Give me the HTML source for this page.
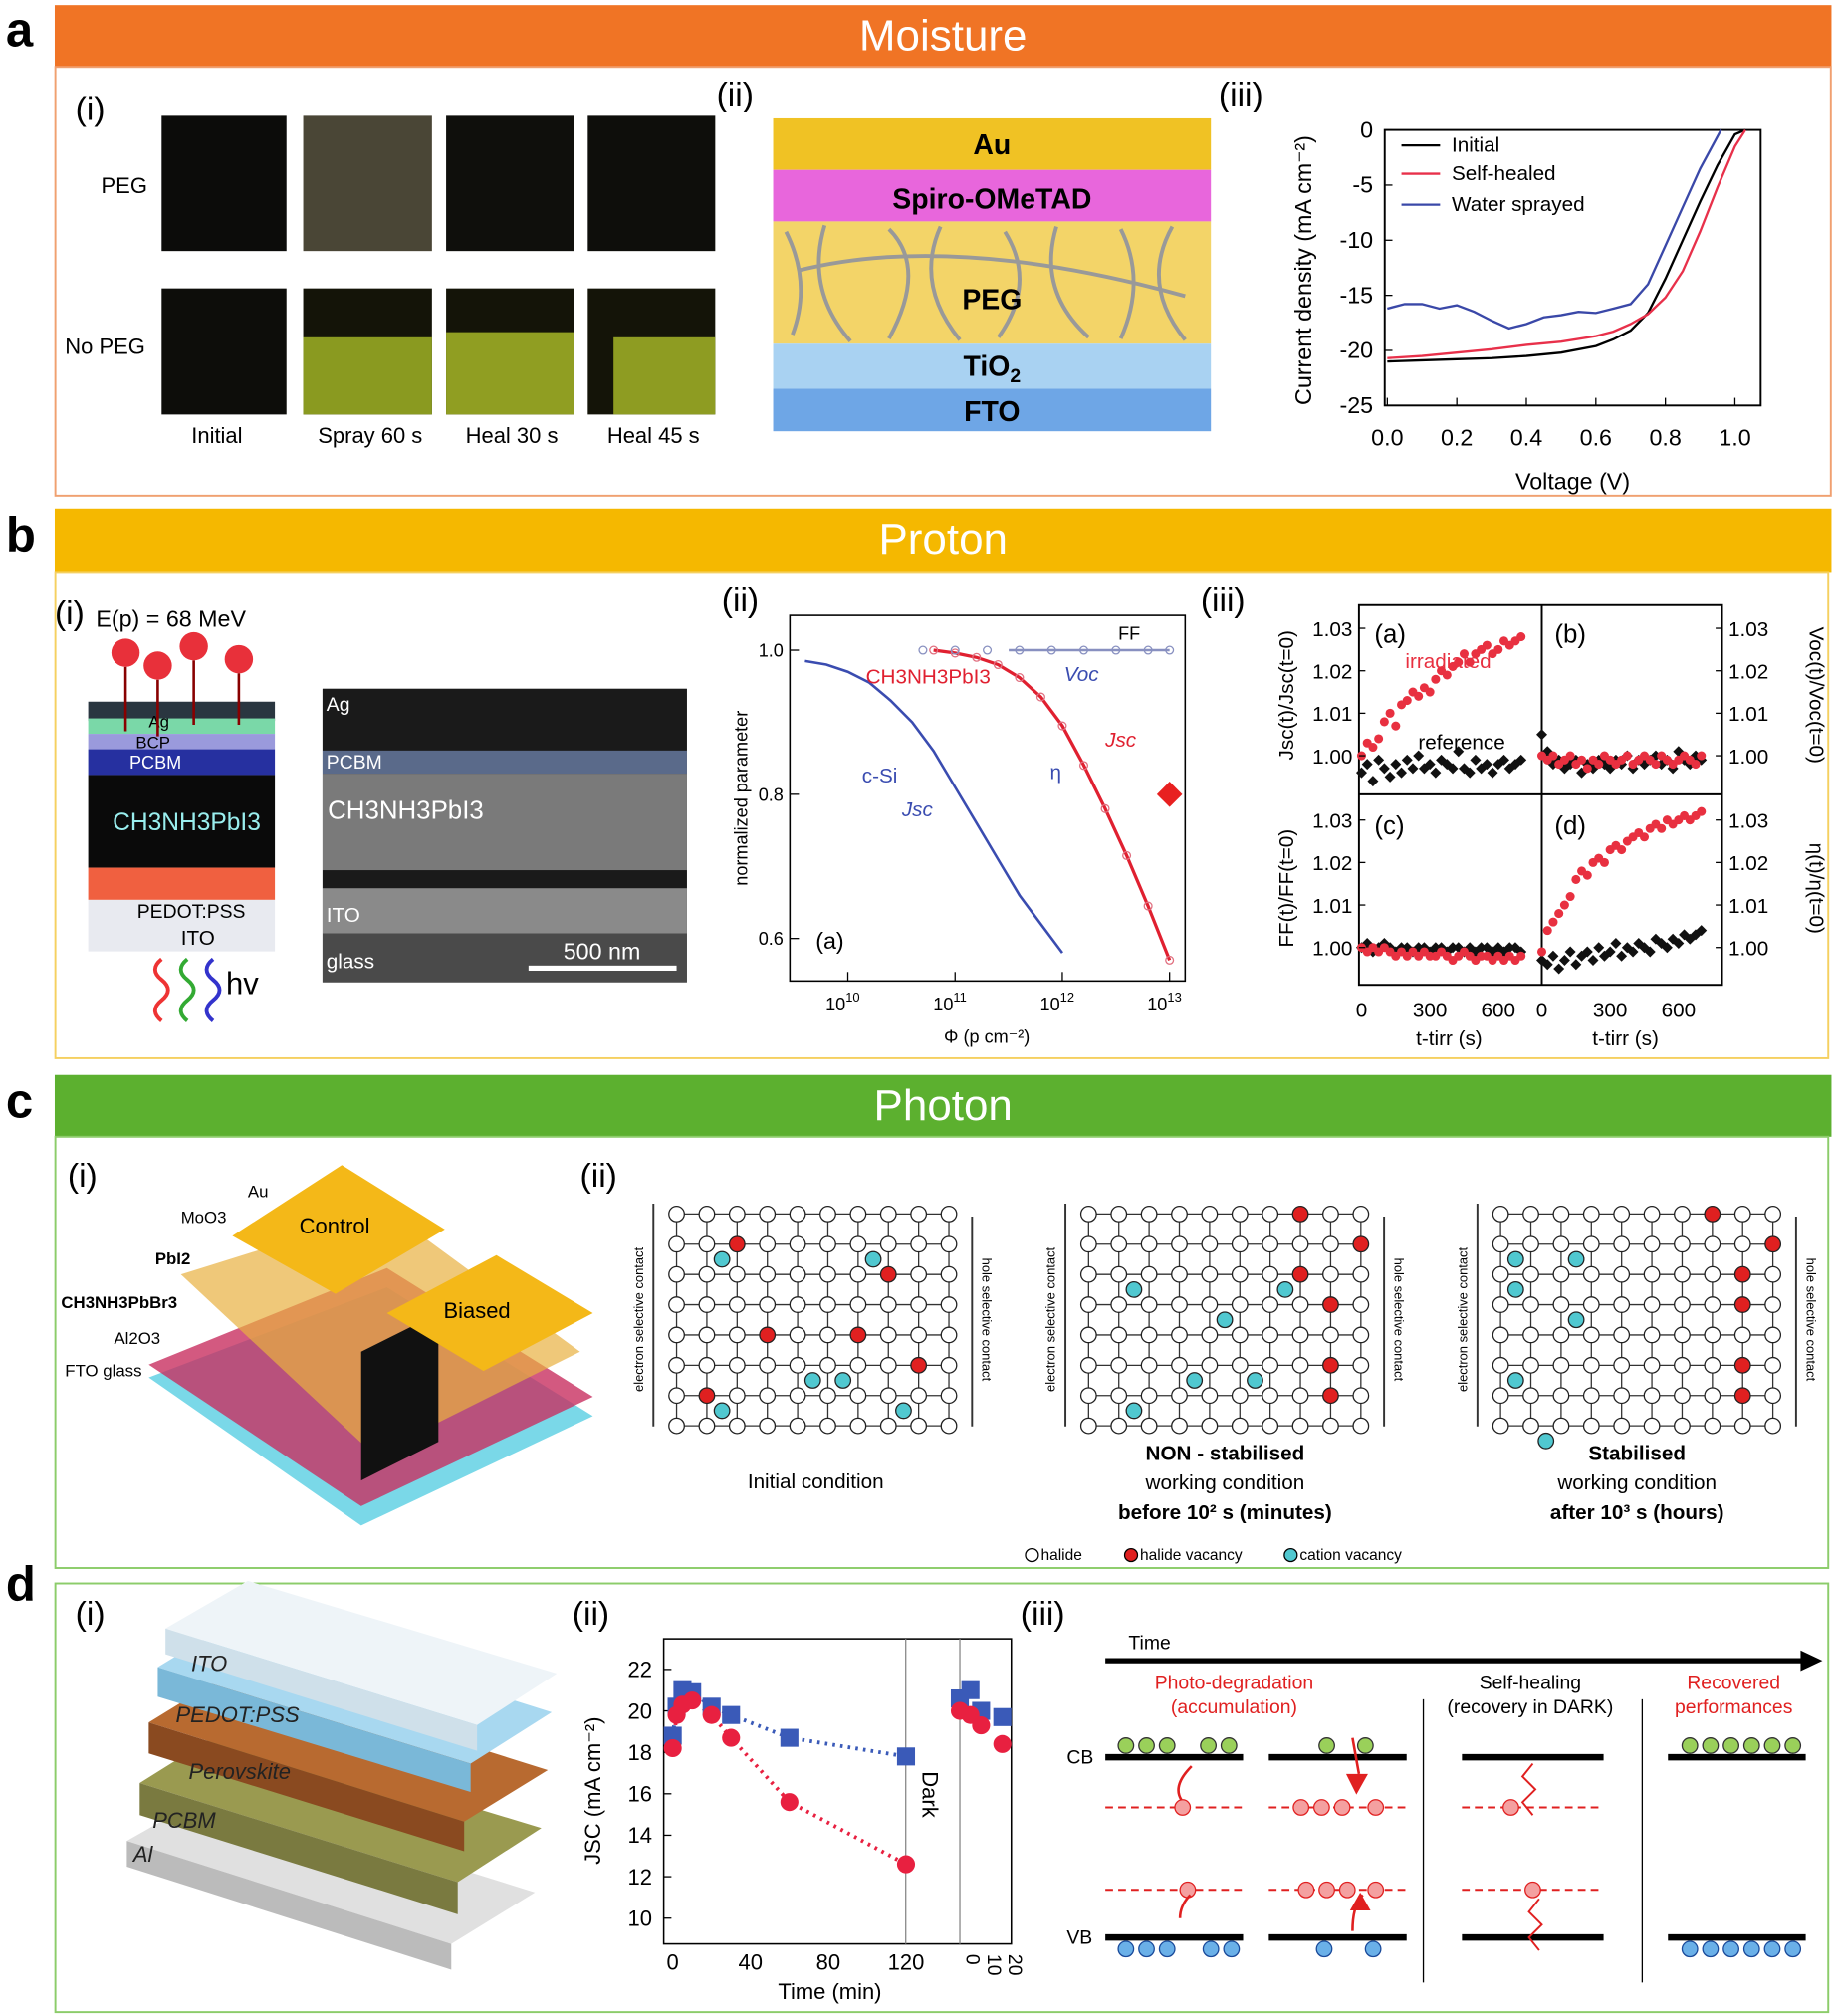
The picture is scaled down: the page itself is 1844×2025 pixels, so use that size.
<!DOCTYPE html>
<html><head><meta charset="utf-8"><style>
html,body{margin:0;padding:0;background:#fff}
svg{display:block;font-family:"Liberation Sans",sans-serif}
</style></head><body>
<svg id="root" width="1844" height="2025" viewBox="0 0 1425 1566" xmlns="http://www.w3.org/2000/svg">
<!-- headers -->
<g>
<text x="4" y="36" font-size="38" font-weight="bold">a</text>
<rect x="42" y="4" width="1380" height="48" fill="#f07425"/>
<text x="732" y="39" font-size="34" fill="#fff" text-anchor="middle">Moisture</text>
<rect x="42.5" y="52" width="1379" height="333" fill="none" stroke="#f0a070" stroke-width="1.5"/>
<text x="58" y="93" font-size="26">(i)</text>
<text x="556" y="82" font-size="26">(ii)</text>
<text x="946" y="82" font-size="26">(iii)</text>
<g>
<rect x="125" y="90" width="97" height="105" fill="#0c0c0a"/><rect x="235" y="90" width="100" height="105" fill="#4a4636"/>
<rect x="346" y="90" width="99" height="105" fill="#0f0f0c"/><rect x="456" y="90" width="99" height="105" fill="#0e0e0b"/>
<rect x="125" y="224" width="97" height="98" fill="#0d0d0a"/>
<rect x="235" y="224" width="100" height="98" fill="#141408"/><rect x="235" y="262" width="100" height="60" fill="#8a9a20"/>
<rect x="346" y="224" width="99" height="98" fill="#141408"/><rect x="346" y="258" width="99" height="64" fill="#909e22"/>
<rect x="456" y="224" width="99" height="98" fill="#141408"/><rect x="476" y="262" width="79" height="60" fill="#8e9c22"/>
<text x="78" y="150" font-size="17">PEG</text><text x="50" y="275" font-size="17">No PEG</text>
<text x="168" y="344" font-size="17" text-anchor="middle">Initial</text><text x="287" y="344" font-size="17" text-anchor="middle">Spray 60 s</text>
<text x="397" y="344" font-size="17" text-anchor="middle">Heal 30 s</text><text x="507" y="344" font-size="17" text-anchor="middle">Heal 45 s</text>
</g>
<g>
<rect x="600" y="92" width="340" height="40" fill="#f0c224"/><rect x="600" y="132" width="340" height="40" fill="#e866dc"/>
<rect x="600" y="172" width="340" height="95" fill="#f3d468"/><rect x="600" y="267" width="340" height="35" fill="#a9d2f2"/>
<rect x="600" y="302" width="340" height="33" fill="#6ea6e6"/>
<path d="M610 180 q20 40 5 80 M640 175 q-15 50 20 90 M690 178 q30 30 0 85 M730 176 q-20 45 15 88 M780 180 q25 40 -5 82 M820 176 q-15 50 25 86 M870 178 q20 40 0 85 M910 176 q-25 45 10 88 M620 210 q120 -30 300 20" stroke="#999" stroke-width="3" fill="none"/>
<text x="770" y="120" font-size="22" font-weight="bold" text-anchor="middle">Au</text>
<text x="770" y="162" font-size="22" font-weight="bold" text-anchor="middle">Spiro-OMeTAD</text>
<text x="770" y="240" font-size="22" font-weight="bold" text-anchor="middle">PEG</text>
<text x="770" y="292" font-size="22" font-weight="bold" text-anchor="middle">TiO<tspan font-size="15" dy="5">2</tspan></text>
<text x="770" y="327" font-size="22" font-weight="bold" text-anchor="middle">FTO</text>
</g>
<g id="chartA"></g>
</g>

<g>
<text x="4" y="428" font-size="38" font-weight="bold">b</text>
<rect x="42" y="395" width="1380" height="50" fill="#f5b800"/>
<text x="732" y="430" font-size="34" fill="#fff" text-anchor="middle">Proton</text>
<rect x="42.5" y="445" width="1377" height="377" fill="none" stroke="#f5d060" stroke-width="1.5"/>
<text x="42" y="485" font-size="26">(i)</text>
<text x="560" y="475" font-size="26">(ii)</text>
<text x="932" y="475" font-size="26">(iii)</text>
<g>
<text x="74" y="487" font-size="18">E(p) = 68 MeV</text>
<polygon points="68,545 213,545 213,560 68,560" fill="#2a3640"/>
<rect x="68" y="558" width="145" height="12" fill="#7ad8a8"/><rect x="68" y="570" width="145" height="12" fill="#9a9adc"/>
<rect x="68" y="582" width="145" height="20" fill="#2630a0"/><rect x="68" y="602" width="145" height="72" fill="#0a0a0a"/>
<rect x="68" y="674" width="145" height="25" fill="#f06040"/><rect x="68" y="699" width="145" height="40" fill="#e8eaf0"/>
<text x="115" y="565" font-size="13">Ag</text><text x="105" y="581" font-size="13">BCP</text><text x="100" y="597" font-size="14" fill="#fff">PCBM</text>
<text x="87" y="645" font-size="19" fill="#9ee">CH3NH3PbI3</text><text x="106" y="713" font-size="15">PEDOT:PSS</text><text x="140" y="734" font-size="16">ITO</text>
<text x="175" y="772" font-size="24">hv</text>
<path d="M125 745 q-10 8 0 16 q10 8 0 16 q-10 8 0 16" stroke="#e33" stroke-width="3" fill="none"/>
<path d="M145 745 q-10 8 0 16 q10 8 0 16 q-10 8 0 16" stroke="#3a3" stroke-width="3" fill="none"/>
<path d="M165 745 q-10 8 0 16 q10 8 0 16 q-10 8 0 16" stroke="#33c" stroke-width="3" fill="none"/>
<g fill="#e8303a"><circle cx="97" cy="507" r="11"/><circle cx="122" cy="517" r="11"/><circle cx="150" cy="502" r="11"/><circle cx="185" cy="512" r="11"/></g>
<path d="M97 518 v50 M122 528 v44 M150 513 v50 M185 523 v40" stroke="#800" stroke-width="2"/>
</g>
<g>
<rect x="250" y="535" width="283" height="228" fill="#3c3c3c"/>
<rect x="250" y="535" width="283" height="48" fill="#1a1a1a"/><rect x="250" y="583" width="283" height="18" fill="#5a6a8a"/>
<rect x="250" y="601" width="283" height="75" fill="#7a7a7a"/><rect x="250" y="676" width="283" height="14" fill="#1a1a1a"/>
<rect x="250" y="690" width="283" height="35" fill="#8a8a8a"/><rect x="250" y="725" width="283" height="38" fill="#4a4a4a"/>
<text x="253" y="552" font-size="15" fill="#fff">Ag</text><text x="253" y="597" font-size="15" fill="#fff">PCBM</text>
<text x="254" y="636" font-size="20" fill="#fff">CH3NH3PbI3</text><text x="253" y="716" font-size="16" fill="#fff">ITO</text>
<text x="253" y="752" font-size="16" fill="#fff">glass</text>
<rect x="410" y="750" width="115" height="4" fill="#fff"/><text x="467" y="745" font-size="18" fill="#fff" text-anchor="middle">500 nm</text>
</g>
<g id="chartB"></g>
<g id="chartB3"></g>
</g>

<g>
<text x="4" y="868" font-size="38" font-weight="bold">c</text>
<rect x="42" y="835" width="1380" height="48" fill="#5cb02f"/>
<text x="732" y="870" font-size="34" fill="#fff" text-anchor="middle">Photon</text>
<rect x="42.5" y="883" width="1377" height="335" fill="none" stroke="#8ccc6a" stroke-width="1.5"/>
<text x="52" y="922" font-size="26">(i)</text>
<text x="450" y="922" font-size="26">(ii)</text>
<g>
<polygon points="115,1070 280,1185 460,1100 300,1000" fill="#7ad8e8"/>
<polygon points="115,1060 280,1170 460,1085 300,985" fill="#c83060" opacity="0.8"/>
<polygon points="140,990 290,1130 450,1050 300,940" fill="#e8b040" opacity="0.7"/>
<polygon points="280,1050 340,1020 340,1120 280,1150" fill="#111"/>
<polygon points="180,960 265,905 345,955 260,1005" fill="#f4b818"/>
<polygon points="300,1020 385,975 460,1020 375,1065" fill="#f4b818"/>
<text x="232" y="958" font-size="17">Control</text><text x="344" y="1024" font-size="17">Biased</text>
<g font-size="13"><text x="192" y="930">Au</text><text x="140" y="950">MoO3</text><text x="120" y="982" font-weight="bold">PbI2</text>
<text x="47" y="1016" font-weight="bold">CH3NH3PbBr3</text><text x="88" y="1044">Al2O3</text><text x="50" y="1069">FTO glass</text></g>
</g>
<g id="lattices"></g>
<g font-size="16" text-anchor="middle">
<text x="633" y="1156">Initial condition</text>
<text x="951" y="1134" font-weight="bold">NON - stabilised</text><text x="951" y="1157">working condition</text>
<text x="951" y="1180" font-weight="bold">before 10² s (minutes)</text>
<text x="1271" y="1134" font-weight="bold">Stabilised</text><text x="1271" y="1157">working condition</text>
<text x="1271" y="1180" font-weight="bold">after 10³ s (hours)</text>
</g>
<g font-size="12">
<circle cx="801" cy="1208" r="5" fill="#fff" stroke="#000"/><text x="808" y="1212">halide</text>
<circle cx="878" cy="1208" r="5" fill="#e02020" stroke="#000"/><text x="885" y="1212">halide vacancy</text>
<circle cx="1002" cy="1208" r="5" fill="#50c8d0" stroke="#000"/><text x="1009" y="1212">cation vacancy</text>
</g>
</g>

<g>
<text x="4" y="1243" font-size="38" font-weight="bold">d</text>
<rect x="42.5" y="1230" width="1377" height="333" fill="none" stroke="#8ccc6a" stroke-width="1.5"/>
<text x="58" y="1262" font-size="26">(i)</text>
<text x="444" y="1262" font-size="26">(ii)</text>
<text x="792" y="1262" font-size="26">(iii)</text>
<g>
<polygon points="98,1430 350,1510 415,1470 165,1392" fill="#e0e0e0"/><polygon points="98,1430 98,1450 350,1530 350,1510" fill="#bbb"/>
<polygon points="108,1385 355,1462 420,1420 172,1345" fill="#9a9a50"/><polygon points="108,1385 108,1410 355,1487 355,1462" fill="#7a7a40"/>
<polygon points="115,1338 360,1415 425,1375 180,1298" fill="#b86a30"/><polygon points="115,1338 115,1362 360,1438 360,1415" fill="#8a4a20"/>
<polygon points="122,1295 365,1370 428,1330 188,1255" fill="#a8d8f0"/><polygon points="122,1295 122,1318 365,1392 365,1370" fill="#7ab8d8"/>
<polygon points="128,1265 370,1340 432,1300 192,1228" fill="#eef4f8"/><polygon points="128,1265 128,1285 370,1360 370,1340" fill="#cfe0ea"/>
<g font-size="17" font-style="italic" fill="#222"><text x="148" y="1298">ITO</text><text x="136" y="1338">PEDOT:PSS</text>
<text x="146" y="1382">Perovskite</text><text x="118" y="1420">PCBM</text><text x="103" y="1446">Al</text></g>
</g>
<g id="chartD"></g>
<g>
<text x="876" y="1281" font-size="15">Time</text>
<line x1="858" y1="1290" x2="1400" y2="1290" stroke="#000" stroke-width="4"/><polygon points="1415,1290 1398,1282 1398,1298" fill="#000"/>
<g font-size="15" text-anchor="middle"><text x="958" y="1312" fill="#e02020">Photo-degradation</text><text x="958" y="1331" fill="#e02020">(accumulation)</text>
<text x="1188" y="1312">Self-healing</text><text x="1188" y="1331">(recovery in DARK)</text>
<text x="1346" y="1312" fill="#e02020">Recovered</text><text x="1346" y="1331" fill="#e02020">performances</text></g>
<line x1="1105" y1="1320" x2="1105" y2="1540" stroke="#000"/><line x1="1275" y1="1320" x2="1275" y2="1540" stroke="#000"/>
<text x="828" y="1370" font-size="15">CB</text><text x="828" y="1510" font-size="15">VB</text>
<g stroke="#000" stroke-width="5"><line x1="858" y1="1365" x2="965" y2="1365"/><line x1="985" y1="1365" x2="1092" y2="1365"/><line x1="1135" y1="1365" x2="1245" y2="1365"/><line x1="1295" y1="1365" x2="1402" y2="1365"/>
<line x1="858" y1="1505" x2="965" y2="1505"/><line x1="985" y1="1505" x2="1092" y2="1505"/><line x1="1135" y1="1505" x2="1245" y2="1505"/><line x1="1295" y1="1505" x2="1402" y2="1505"/></g>
<g stroke="#e02020" stroke-dasharray="6,4" stroke-width="1.5"><line x1="858" y1="1404" x2="965" y2="1404"/><line x1="985" y1="1404" x2="1092" y2="1404"/><line x1="1135" y1="1404" x2="1245" y2="1404"/>
<line x1="858" y1="1468" x2="965" y2="1468"/><line x1="985" y1="1468" x2="1092" y2="1468"/><line x1="1135" y1="1468" x2="1245" y2="1468"/></g>
<g fill="#9ad05a" stroke="#333"><circle cx="874" cy="1356" r="6"/><circle cx="890" cy="1356" r="6"/><circle cx="906" cy="1356" r="6"/><circle cx="938" cy="1356" r="6"/><circle cx="954" cy="1356" r="6"/>
<circle cx="1030" cy="1356" r="6"/><circle cx="1060" cy="1356" r="6"/>
<circle cx="1312" cy="1356" r="6"/><circle cx="1328" cy="1356" r="6"/><circle cx="1344" cy="1356" r="6"/><circle cx="1360" cy="1356" r="6"/><circle cx="1376" cy="1356" r="6"/><circle cx="1392" cy="1356" r="6"/></g>
<g fill="#f4a0a0" stroke="#e02020"><circle cx="918" cy="1404" r="6"/><circle cx="1010" cy="1404" r="6"/><circle cx="1026" cy="1404" r="6"/><circle cx="1042" cy="1404" r="6"/><circle cx="1068" cy="1404" r="6"/><circle cx="1173" cy="1404" r="6"/>
<circle cx="922" cy="1468" r="6"/><circle cx="1014" cy="1468" r="6"/><circle cx="1030" cy="1468" r="6"/><circle cx="1046" cy="1468" r="6"/><circle cx="1068" cy="1468" r="6"/><circle cx="1190" cy="1468" r="6"/></g>
<g fill="#6ab0e8" stroke="#1a4a9a"><circle cx="874" cy="1514" r="6"/><circle cx="890" cy="1514" r="6"/><circle cx="906" cy="1514" r="6"/><circle cx="940" cy="1514" r="6"/><circle cx="956" cy="1514" r="6"/>
<circle cx="1028" cy="1514" r="6"/><circle cx="1066" cy="1514" r="6"/>
<circle cx="1312" cy="1514" r="6"/><circle cx="1328" cy="1514" r="6"/><circle cx="1344" cy="1514" r="6"/><circle cx="1360" cy="1514" r="6"/><circle cx="1376" cy="1514" r="6"/><circle cx="1392" cy="1514" r="6"/></g>
<path d="M925 1372 q-15 15 -8 26 M916 1490 q0 -10 8 -18 M1050 1350 l5 28 M1050 1500 q0 -20 8 -28" stroke="#e02020" stroke-width="2" fill="none"/>
<polygon points="1045,1378 1062,1378 1053,1394" fill="#e02020"/><polygon points="1048,1484 1064,1484 1056,1470" fill="#e02020"/>
<path d="M1190 1370 l-8 10 l10 10 l-10 10 l8 10" stroke="#e02020" fill="none" stroke-width="1.5"/>
<path d="M1195 1475 l-8 10 l10 10 l-10 10 l8 10" stroke="#e02020" fill="none" stroke-width="1.5"/>
</g>
</g>
</svg>
<script>
// ---------- data ----------
const jvVolt = [0,0.1,0.2,0.3,0.4,0.5,0.6,0.65,0.7,0.75,0.8,0.85,0.9,0.95,1.0,1.03];
const jvInitial = [-21,-20.9,-20.8,-20.7,-20.5,-20.2,-19.6,-19,-18.2,-16.6,-13.5,-10,-6.5,-3.2,-0.4,0];
const jvHealed = [-20.7,-20.5,-20.2,-19.9,-19.5,-19.2,-18.7,-18.3,-17.6,-16.7,-15.2,-12.8,-9.2,-5.2,-1.5,0];
const jvSprayVolt = [0,0.05,0.1,0.15,0.2,0.25,0.3,0.35,0.4,0.45,0.5,0.55,0.6,0.65,0.7,0.75,0.8,0.85,0.9,0.96];
const jvSpray = [-16.2,-15.8,-15.8,-16.2,-15.9,-16.5,-17.3,-18,-17.6,-17,-16.8,-16.5,-16.6,-16.2,-15.8,-14,-10.5,-7,-3.5,0];
const jvXTicks = ["0.0","0.2","0.4","0.6","0.8","1.0"];
const jvYTicks = ["0","-5","-10","-15","-20","-25"];

const siLogPhi = [9.6,9.8,10,10.2,10.4,10.6,10.8,11,11.2,11.4,11.6,11.8,12];
const siJsc = [0.985,0.98,0.97,0.955,0.93,0.9,0.86,0.81,0.76,0.71,0.66,0.62,0.58];
const pvkLogPhi = [10.8,11,11.2,11.4,11.6,11.8,12,12.2,12.4,12.6,12.8,13];
const pvkJsc = [1,0.996,0.99,0.98,0.962,0.935,0.895,0.84,0.78,0.715,0.645,0.57];
const fluenceTicks = ["10","11","12","13"];
const normTicks = ["1.0","0.8","0.6"];

const irrT = [0,25,50,75,100,125,150,175,200,225,250,275,300,325,350,375,400,425,450,475,500,525,550,575,600,625,650,675,700];
const jscIrr = [1.000,1.003,1.002,1.004,1.008,1.010,1.007,1.012,1.013,1.015,1.014,1.016,1.015,1.018,1.020,1.019,1.021,1.022,1.024,1.022,1.024,1.025,1.026,1.024,1.025,1.027,1.026,1.027,1.028];
const jscRef = [0.996,0.998,0.994,0.999,0.997,0.995,0.998,0.996,0.999,0.997,1.000,0.997,0.998,0.996,0.999,0.998,0.997,1.001,0.997,0.996,0.999,0.997,0.998,0.996,0.998,0.999,0.997,0.998,0.999];
const vocIrr = [1.000,0.999,1.000,0.998,0.999,1.000,0.998,0.999,0.997,0.999,0.998,1.000,0.999,0.998,0.999,1.000,0.998,0.999,1.000,0.999,0.998,1.000,0.999,0.998,0.999,1.000,0.999,0.998,1.000];
const vocRef = [1.005,1.001,0.998,0.999,0.997,0.998,0.999,0.996,0.998,0.997,0.999,0.998,0.997,0.999,0.998,1.000,0.997,0.999,0.998,0.999,1.000,0.998,0.999,0.997,1.001,0.999,0.998,1.000,0.999];
const ffIrr = [1.000,0.999,1.000,0.999,1.000,0.999,0.998,0.999,0.998,0.999,0.998,0.999,0.998,0.998,0.999,0.998,0.997,0.998,0.999,0.998,0.997,0.998,0.998,0.997,0.998,0.997,0.998,0.997,0.998];
const ffRef = [1.000,1.001,0.999,1.000,1.001,1.000,0.999,1.000,1.000,0.999,1.000,1.000,0.999,1.000,1.000,0.999,1.000,1.000,0.999,1.000,0.999,1.000,1.000,0.999,1.000,0.999,1.000,1.000,0.999];
const etaIrr = [0.999,1.004,1.006,1.008,1.010,1.012,1.016,1.018,1.017,1.020,1.021,1.020,1.023,1.024,1.023,1.025,1.026,1.027,1.026,1.028,1.029,1.028,1.030,1.029,1.030,1.031,1.030,1.031,1.032];
const etaRef = [0.997,0.996,0.998,0.995,0.997,0.999,0.996,0.998,0.999,0.997,1.000,0.998,0.999,1.001,0.998,1.000,0.999,1.001,1.000,0.999,1.002,1.001,1.000,1.002,1.001,1.003,1.002,1.003,1.004];
const relTicks = ["1.00","1.01","1.02","1.03"];
const tTicks = ["0","300","600"];

const darkTime = [0,2,5,10,20,30,60,120];
const jscRed = [18.2,19.8,20.3,20.5,19.8,18.7,15.6,12.6];
const jscBlue = [18.8,20.2,21,20.9,20.2,19.8,18.7,17.8];
const recTime = [0,5,10,20];
const recRed = [20,19.8,19.3,18.4];
const recBlue = [20.6,21,20,19.7];
const jscTicks = ["10","12","14","16","18","20","22"];
const timeTicks = ["0","40","80","120"];
const recTicks = ["0","10","20"];

const NS="http://www.w3.org/2000/svg";
function mk(parent,tag,attrs,txt){const e=document.createElementNS(NS,tag);for(const k in attrs)e.setAttribute(k,attrs[k]);if(txt!==undefined)e.textContent=txt;parent.appendChild(e);return e;}
function poly(g,xs,ys,sx,sy,col,w,dash){let d=xs.map((v,i)=>(i?'L':'M')+sx(v).toFixed(1)+' '+sy(ys[i]).toFixed(1)).join(' ');const p=mk(g,'path',{d:d,stroke:col,'stroke-width':w,fill:'none'});if(dash)p.setAttribute('stroke-dasharray',dash);return p;}

// ---------- chart A ----------
(function(){
const g=document.getElementById('chartA');
const sx=v=>1077+v*270, sy=j=>101-j*8.56;
mk(g,'rect',{x:1075,y:101,width:292,height:214,fill:'none',stroke:'#000','stroke-width':1.5});
jvXTicks.forEach(t=>{const x=sx(+t);mk(g,'line',{x1:x,y1:315,x2:x,y2:309,stroke:'#000'});mk(g,'text',{x:x,y:346,'font-size':18,'text-anchor':'middle'},t);});
jvYTicks.forEach(t=>{const y=sy(+t);mk(g,'line',{x1:1075,y1:y,x2:1081,y2:y,stroke:'#000'});mk(g,'text',{x:1066,y:y+6,'font-size':18,'text-anchor':'end'},t);});
mk(g,'text',{x:1221,y:380,'font-size':18,'text-anchor':'middle'},'Voltage (V)');
mk(g,'text',{x:1018,y:210,'font-size':18,'text-anchor':'middle',transform:'rotate(-90 1018 210)'},'Current density (mA cm⁻²)');
const l1=poly(g,jvVolt,jvInitial,sx,sy,'#000',1.8);
const l2=poly(g,jvVolt,jvHealed,sx,sy,'#e8304a',1.8);
const l3=poly(g,jvSprayVolt,jvSpray,sx,sy,'#3a48a8',1.8);
[['Initial','#000',118],['Self-healed','#e8304a',140],['Water sprayed','#3a48a8',164]].forEach(r=>{mk(g,'line',{x1:1088,y1:r[2]-5,x2:1118,y2:r[2]-5,stroke:r[1],'stroke-width':1.8});const t=mk(g,'text',{x:1127,y:r[2],'font-size':16},r[0]);});
})();

// ---------- chart B(ii) ----------
(function(){
const g=document.getElementById('chartB');
const sx=l=>658+(l-10)*83.3, sy=v=>505+(1-v)*560;
mk(g,'rect',{x:613,y:478,width:307,height:284,fill:'none',stroke:'#000','stroke-width':1.2});
fluenceTicks.forEach(t=>{const x=sx(+t);mk(g,'line',{x1:x,y1:762,x2:x,y2:755,stroke:'#000'});const tx=mk(g,'text',{x:x-4,y:785,'font-size':14,'text-anchor':'middle'},'10');mk(tx,'tspan',{dy:-7,'font-size':10},t);});
normTicks.forEach(t=>{const y=sy(+t);mk(g,'line',{x1:613,y1:y,x2:620,y2:y,stroke:'#000'});mk(g,'text',{x:608,y:y+5,'font-size':14,'text-anchor':'end'},t);});
mk(g,'text',{x:766,y:810,'font-size':14,'text-anchor':'middle'},'Φ (p cm⁻²)');
mk(g,'text',{x:580,y:620,'font-size':14,'text-anchor':'middle',transform:'rotate(-90 580 620)'},'normalized parameter');
mk(g,'text',{x:633,y:737,'font-size':18},'(a)');
const s=poly(g,siLogPhi,siJsc,sx,sy,'#3a4cb0',2);
const p=poly(g,pvkLogPhi,pvkJsc,sx,sy,'#e02030',2.5);
pvkLogPhi.forEach((l,i)=>{const c=mk(g,'circle',{cx:sx(l),cy:sy(pvkJsc[i]),r:3,fill:'none',stroke:'#e07080'});});
const fl=[10.7,11,11.3,11.6,11.9,12.2,12.5,12.8,13];
fl.forEach(l=>{const c=mk(g,'circle',{cx:sx(l),cy:sy(1.0),r:3,fill:'none',stroke:'#8890c0'});});
mk(g,'line',{x1:sx(11.5),y1:sy(1.0),x2:sx(13),y2:sy(1.0),stroke:'#8890c0','stroke-width':2});
mk(g,'rect',{x:sx(13)-7,y:sy(0.8)-7,width:14,height:14,fill:'#e82020',transform:`rotate(45 ${sx(13)} ${sy(0.8)})`});
mk(g,'text',{x:672,y:531,'font-size':16,fill:'#e02030'},'CH3NH3PbI3');
mk(g,'text',{x:669,y:608,'font-size':16,fill:'#3a4cb0'},'c-Si');
mk(g,'text',{x:700,y:634,'font-size':16,fill:'#3a4cb0','font-style':'italic'},'Jsc');
mk(g,'text',{x:858,y:580,'font-size':16,fill:'#e02030','font-style':'italic'},'Jsc');
mk(g,'text',{x:815,y:605,'font-size':16,fill:'#3a4cb0'},'η');
mk(g,'text',{x:826,y:529,'font-size':16,fill:'#3a4cb0','font-style':'italic'},'Voc');
mk(g,'text',{x:868,y:497,'font-size':14},'FF');
})();

// ---------- chart B(iii) ----------
(function(){
const g=document.getElementById('chartB3');
const x0s=[1057,1197], ytops=[{v0:587},{v0:736}];
mk(g,'rect',{x:1055,y:470,width:282,height:295,fill:'none',stroke:'#000','stroke-width':1.5});
mk(g,'line',{x1:1197,y1:470,x2:1197,y2:765,stroke:'#000','stroke-width':1.5});
mk(g,'line',{x1:1055,y1:617,x2:1337,y2:617,stroke:'#000','stroke-width':1.5});
const sets=[[jscIrr,jscRef,0,0,'(a)'],[vocIrr,vocRef,1,0,'(b)'],[ffIrr,ffRef,0,1,'(c)'],[etaIrr,etaRef,1,1,'(d)']];
sets.forEach(s=>{
 const sx=t=>x0s[s[2]]+t*0.177, base=ytops[s[3]].v0, sy=v=>base-(v-1)*3300;
 mk(g,'text',{x:x0s[s[2]]+10,y:base-88,'font-size':20},s[4]);
 s[1].forEach((v,i)=>{const r=mk(g,'rect',{x:sx(irrT[i])-3,y:sy(v)-3,width:6,height:6,fill:'#111',transform:`rotate(45 ${sx(irrT[i])} ${sy(v)})`});});
 s[0].forEach((v,i)=>{const c=mk(g,'circle',{cx:sx(irrT[i]),cy:sy(v),r:3.5,fill:'#e83040'});});
});
relTicks.forEach(t=>{[587,736].forEach(b=>{const y=b-(+t-1)*3300;mk(g,'text',{x:1050,y:y+6,'font-size':16,'text-anchor':'end'},t);mk(g,'text',{x:1342,y:y+6,'font-size':16},t);mk(g,'line',{x1:1055,y1:y,x2:1060,y2:y,stroke:'#000'});mk(g,'line',{x1:1337,y1:y,x2:1332,y2:y,stroke:'#000'});});});
tTicks.forEach(t=>{x0s.forEach(x0=>{const x=x0+ +t*0.177;mk(g,'text',{x:x,y:790,'font-size':16,'text-anchor':'middle'},t);});});
mk(g,'text',{x:1125,y:812,'font-size':16,'text-anchor':'middle'},'t-tirr (s)');
mk(g,'text',{x:1262,y:812,'font-size':16,'text-anchor':'middle'},'t-tirr (s)');
mk(g,'text',{x:1091,y:519,'font-size':16,fill:'#e83040'},'irradiated');
mk(g,'text',{x:1101,y:582,'font-size':16},'reference');
mk(g,'text',{x:1004,y:540,'font-size':16,'text-anchor':'middle',transform:'rotate(-90 1004 540)'},'Jsc(t)/Jsc(t=0)');
mk(g,'text',{x:1004,y:690,'font-size':16,'text-anchor':'middle',transform:'rotate(-90 1004 690)'},'FF(t)/FF(t=0)');
mk(g,'text',{x:1405,y:540,'font-size':16,'text-anchor':'middle',transform:'rotate(90 1405 540)'},'Voc(t)/Voc(t=0)');
mk(g,'text',{x:1405,y:690,'font-size':16,'text-anchor':'middle',transform:'rotate(90 1405 690)'},'η(t)/η(t=0)');
})();

// ---------- lattices ----------
(function(){
const g=document.getElementById('lattices');
const lat=[{x:525,hal:[[2,1],[7,2],[3,4],[6,4],[8,5],[1,6]],cat:[[1,1],[6,1],[4,5],[5,5],[1,6],[7,6]]},
{x:845,hal:[[7,0],[9,1],[7,2],[8,3],[8,5],[8,6]],cat:[[1,2],[6,2],[4,3],[3,5],[5,5],[1,6]]},
{x:1165,hal:[[7,0],[9,1],[8,2],[8,3],[8,5],[8,6]],cat:[[0,1],[2,1],[0,2],[2,3],[0,5],[1,7]]}];
lat.forEach((L,li)=>{
 const gg=mk(g,'g',{});
 const sp=23.5,y0=943;
 for(let r=0;r<8;r++)mk(gg,'line',{x1:L.x,y1:y0+r*sp,x2:L.x+9*sp,y2:y0+r*sp,stroke:'#333'});
 for(let c=0;c<10;c++)mk(gg,'line',{x1:L.x+c*sp,y1:y0,x2:L.x+c*sp,y2:y0+7*sp,stroke:'#333'});
 const key=(c,r)=>c+','+r;const H=new Set(L.hal.map(a=>key(a[0],a[1]))),C=new Set(L.cat.map(a=>key(a[0],a[1])));
 for(let r=0;r<8;r++)for(let c=0;c<10;c++){const x=L.x+c*sp,y=y0+r*sp;
  if(H.has(key(c,r)))mk(gg,'circle',{cx:x,cy:y,r:6,fill:'#e02020',stroke:'#222'});
  else mk(gg,'circle',{cx:x,cy:y,r:6,fill:'#fff',stroke:'#222'});
  if(C.has(key(c,r)))mk(gg,'circle',{cx:x+sp/2,cy:y+sp/2,r:6,fill:'#50c8d0',stroke:'#222'});}
 mk(gg,'line',{x1:L.x-18,y1:935,x2:L.x-18,y2:1108,stroke:'#333','stroke-width':1.5});
 mk(gg,'line',{x1:L.x+9*sp+18,y1:945,x2:L.x+9*sp+18,y2:1108,stroke:'#333','stroke-width':1.5});
 mk(gg,'text',{x:L.x-26,y:1025,'font-size':10,'text-anchor':'middle',transform:`rotate(-90 ${L.x-26} 1025)`},'electron selective contact');
 mk(gg,'text',{x:L.x+9*sp+26,y:1025,'font-size':10,'text-anchor':'middle',transform:`rotate(90 ${L.x+9*sp+26} 1025)`},'hole selective contact');
});
})();

// ---------- chart D ----------
(function(){
const g=document.getElementById('chartD');
const sx=t=>522+t*1.51, sy=v=>1490-(v-10)*16.1, sx2=t=>745+t*1.65;
mk(g,'rect',{x:515,y:1273,width:270,height:237,fill:'none',stroke:'#000','stroke-width':1.2});
mk(g,'line',{x1:703,y1:1273,x2:703,y2:1510,stroke:'#888'});mk(g,'line',{x1:745,y1:1273,x2:745,y2:1510,stroke:'#888'});
jscTicks.forEach(t=>{const y=sy(+t);mk(g,'line',{x1:515,y1:y,x2:521,y2:y,stroke:'#000'});mk(g,'text',{x:506,y:y+6,'font-size':17,'text-anchor':'end'},t);});
timeTicks.forEach(t=>{const x=sx(+t);mk(g,'text',{x:x,y:1530,'font-size':17,'text-anchor':'middle'},t);});
recTicks.forEach(t=>{const x=sx2(+t);mk(g,'text',{x:x+5,y:1518,'font-size':15,transform:`rotate(90 ${x+5} 1518)`},t);});
mk(g,'text',{x:644,y:1553,'font-size':17,'text-anchor':'middle'},'Time (min)');
mk(g,'text',{x:466,y:1391,'font-size':17,'text-anchor':'middle',transform:'rotate(-90 466 1391)'},'JSC (mA cm⁻²)');
mk(g,'text',{x:716,y:1376,'font-size':17,transform:'rotate(90 716 1376)'},'Dark');
poly(g,darkTime,jscBlue,sx,sy,'#3a5ab8',3,'2,4');poly(g,darkTime,jscRed,sx,sy,'#e82040',3,'2,4');
darkTime.forEach((t,i)=>{const r=mk(g,'rect',{x:sx(t)-7,y:sy(jscBlue[i])-7,width:14,height:14,fill:'#3a5ab8'});});
darkTime.forEach((t,i)=>{const c=mk(g,'circle',{cx:sx(t),cy:sy(jscRed[i]),r:7,fill:'#e82040'});});
recTime.forEach((t,i)=>{const r=mk(g,'rect',{x:sx2(t)-7,y:sy(recBlue[i])-7,width:14,height:14,fill:'#3a5ab8'});});
recTime.forEach((t,i)=>{const c=mk(g,'circle',{cx:sx2(t),cy:sy(recRed[i]),r:7,fill:'#e82040'});});
})();
</script>
</body></html>
